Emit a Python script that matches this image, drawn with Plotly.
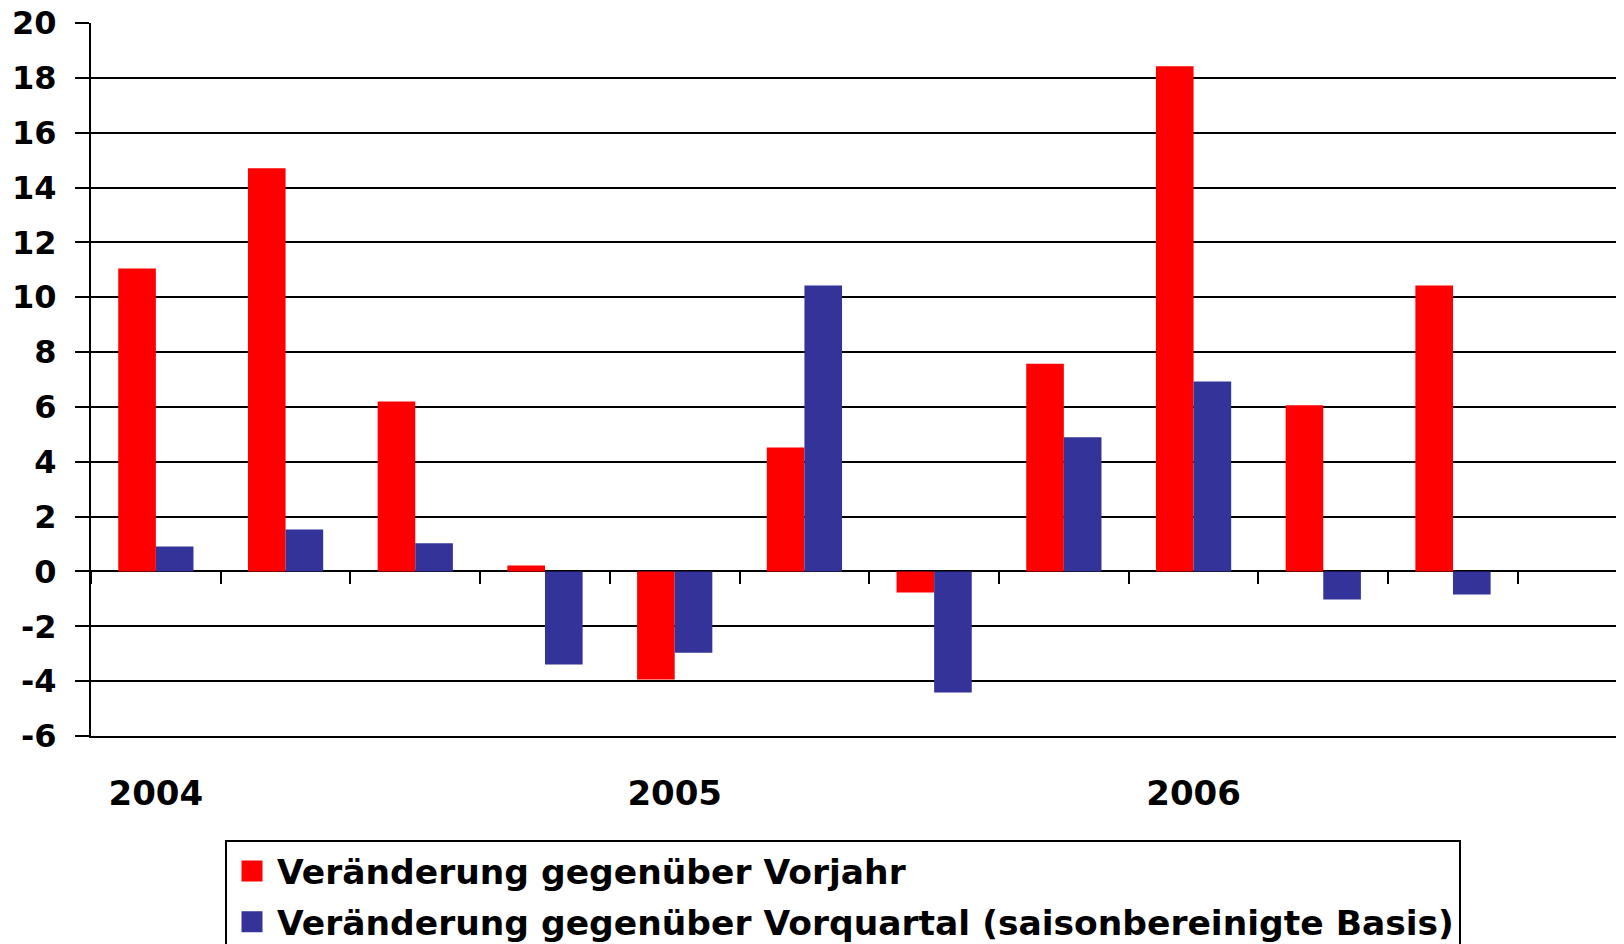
import plotly.graph_objects as go

# ---- data -------------------------------------------------------------
quarters = ["2004 Q1", "2004 Q2", "2004 Q3", "2004 Q4",
            "2005 Q1", "2005 Q2", "2005 Q3", "2005 Q4",
            "2006 Q1", "2006 Q2", "2006 Q3", "2006 Q4"]
vorjahr = [11.05, 14.70, 6.20, 0.22, -3.94, 4.52, -0.77, 7.57, 18.42, 6.06, 10.43, None]
vorquartal = [0.91, 1.53, 1.03, -3.39, -2.96, 10.43, -4.41, 4.89, 6.93, -1.02, -0.84, None]
year_ticks = ["2004 Q1", "2005 Q1", "2006 Q1"]
year_labels = ["2004", "2005", "2006"]
y_ticks = [-6, -4, -2, 0, 2, 4, 6, 8, 10, 12, 14, 16, 18, 20]
y_labels = ["-6", "-4", "-2", "0", "2", "4", "6", "8", "10", "12", "14", "16", "18", "20"]
name_vorjahr = "Veränderung gegenüber Vorjahr"
name_vorquartal = "Veränderung gegenüber Vorquartal (saisonbereinigte Basis)"

RED = "#FF0000"
BLUE = "#333399"
FONT = "DejaVu Sans, Liberation Sans, Arial, sans-serif"

fig = go.Figure()
fig.add_trace(go.Bar(x=quarters, y=vorjahr, marker=dict(color=RED, line=dict(width=0)),
                     name=name_vorjahr, showlegend=False))
fig.add_trace(go.Bar(x=quarters, y=vorquartal, marker=dict(color=BLUE, line=dict(width=0)),
                     name=name_vorquartal, showlegend=False))

# legend proxies (larger square symbols)
fig.add_trace(go.Scatter(x=[None], y=[None], mode="markers", name=name_vorjahr,
                         legendgroup="a",
                         marker=dict(symbol="square", size=16, color=RED,
                                     line=dict(color=RED, width=5))))
fig.add_trace(go.Scatter(x=[None], y=[None], mode="markers", name=name_vorquartal,
                         legendgroup="b",
                         marker=dict(symbol="square", size=16, color=BLUE,
                                     line=dict(color=BLUE, width=5))))

# helper trace for the category-boundary ticks on the zero line
fig.add_trace(go.Scatter(x=quarters, y=[None] * len(quarters), mode="markers",
                         xaxis="x2", yaxis="y", showlegend=False, hoverinfo="skip"))

xr = [-0.5, 11.38]

fig.update_layout(
    width=1624, height=944,
    margin=dict(l=83, r=0, t=15, b=216, autoexpand=False),
    paper_bgcolor="white", plot_bgcolor="white",
    barmode="group", bargap=0.42, bargroupgap=0,
    font=dict(family=FONT, size=34, color="black", weight="bold"),
    xaxis=dict(type="category", categoryorder="array", categoryarray=quarters,
               range=xr, showgrid=False, zeroline=False,
               showline=True, linecolor="black", linewidth=2,
               tickmode="array", tickvals=year_ticks, ticktext=year_labels,
               ticks="outside", ticklen=0, tickcolor="rgba(0,0,0,0)",
               ticklabelstandoff=26,
               tickfont=dict(family=FONT, size=34, color="black", weight="bold")),
    xaxis2=dict(type="category", categoryorder="array", categoryarray=quarters,
                range=xr, overlaying="x", anchor="free", position=6 / 26,
                showgrid=False, zeroline=False, showline=False,
                ticks="outside", tickson="boundaries", ticklen=12, tickwidth=2,
                tickcolor="black", showticklabels=False),
    yaxis=dict(range=[-6, 20], tickmode="array", tickvals=y_ticks, ticktext=y_labels,
               showgrid=True, gridcolor="black", gridwidth=1.5,
               zeroline=False, showline=True, linecolor="black", linewidth=2,
               ticks="outside", ticklen=14, tickwidth=1.5, tickcolor="black",
               ticklabelstandoff=12, ticklabeloverflow="allow",
               tickfont=dict(family=FONT, size=32, color="black", weight="bold")),
    legend=dict(x=(225 - 91) / 1541, y=(736 - 840) / 713, xanchor="left", yanchor="top",
                bordercolor="black", borderwidth=2, bgcolor="white",
                itemwidth=40, tracegroupgap=3,
                font=dict(family=FONT, size=34.5, color="black", weight="bold")),
)

fig.write_html("out.html")
